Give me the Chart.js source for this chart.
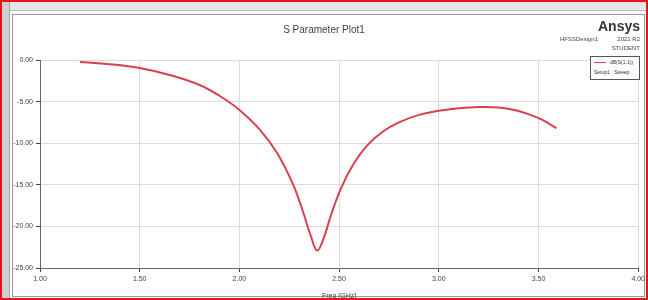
<!DOCTYPE html>
<html>
<head>
<meta charset="utf-8">
<script src="https://cdn.jsdelivr.net/npm/chart.js@4"></script>
<style>
  body { margin: 0; background: #fff; }
  #wrap { position: relative; width: 648px; height: 300px; overflow: hidden; font-family: "Liberation Sans", Arial, sans-serif; }
  #chart { position: absolute; left: 0; top: 0; }
  .ov { position: absolute; pointer-events: none; }
  #frame { left: 0; top: 0; width: 648px; height: 300px; box-sizing: border-box; border: 2px solid #e8141a; }
  #topband { left: 2px; top: 2px; width: 644px; height: 8px; background: #e6e6e6; border-bottom: 1px solid #bdbdbd; }
  #leftband { left: 2px; top: 2px; width: 7px; height: 296px; background: #cfcfcf; border-right: 1px solid #a8a8a8; }
  #title { left: 0; width: 648px; top: 24px; text-align: center; font-size: 10px; color: #444; }
  #ansys { right: 8px; top: 18px; font-size: 14px; font-weight: bold; color: #333; }
  #ver { right: 8px; top: 35px; font-size: 6px; color: #444; text-align: right; line-height: 9px; }
  #design { left: 560px; top: 36px; font-size: 6px; color: #444; }
  #legend { left: 590px; top: 56px; width: 48px; height: 22px; border: 1px solid #555; background: #fff; font-size: 5px; color: #333; }
  #legend div { height: 10px; line-height: 10px; padding-left: 3px; }
  #legend span.ln { display: inline-block; width: 12px; height: 1px; background: #d8404e; vertical-align: middle; margin-right: 4px; }
</style>
</head>
<body>
<div id="wrap">
  <canvas id="chart" width="648" height="300"></canvas>
  <div class="ov" id="topband"></div>
  <div class="ov" id="leftband"></div>
  <div class="ov" id="title">S Parameter Plot1</div>
  <div class="ov" id="ansys">Ansys</div>
  <div class="ov" id="ver">2021 R2<br>STUDENT</div>
  <div class="ov" id="design">HFSSDesign1</div>
  <div class="ov" id="legend">
    <div><span class="ln"></span>dB(S(1,1))</div>
    <div>Setup1 : Sweep</div>
  </div>
  <div class="ov" id="frame"></div>
</div>
<script>
// Frequency points (GHz) and dB(S(1,1)) values
const freqs = [1.2, 1.35, 1.5, 1.65, 1.8, 1.9, 2.0, 2.1, 2.19, 2.27, 2.32, 2.36, 2.39, 2.42, 2.46, 2.51, 2.57, 2.64, 2.72, 2.8, 2.9, 3.0, 3.1, 3.2, 3.3, 3.38, 3.45, 3.52, 3.59];
const s11 = [-0.24, -0.5, -0.96, -1.8, -3.0, -4.3, -6.0, -8.3, -11.2, -15.0, -18.3, -21.3, -22.9, -21.6, -18.6, -15.4, -12.6, -10.3, -8.6, -7.5, -6.6, -6.1, -5.8, -5.65, -5.7, -6.0, -6.5, -7.2, -8.2];

// Axis ticks
const xTicks = [1.0, 1.5, 2.0, 2.5, 3.0, 3.5, 4.0];
const yTicks = [0, -5, -10, -15, -20, -25];

const points = freqs.map((f, i) => ({ x: f, y: s11[i] }));

new Chart(document.getElementById('chart'), {
  type: 'line',
  data: {
    datasets: [{
      label: 'dB(S(1,1))',
      data: points,
      borderColor: '#d8404e',
      borderWidth: 2,
      pointRadius: 0,
      tension: 0.4,
      fill: false
    }]
  },
  options: {
    responsive: false,
    animation: false,
    layout: { padding: { top: 60, right: 5, left: 0, bottom: 0 } },
    plugins: { legend: { display: false }, tooltip: { enabled: false } },
    scales: {
      x: {
        type: 'linear',
        min: xTicks[0],
        max: xTicks[xTicks.length - 1],
        afterBuildTicks: axis => { axis.ticks = xTicks.map(v => ({ value: v })); },
        afterFit: axis => { axis.height = 32; },
        ticks: { font: { size: 7 }, color: '#444', padding: 3, callback: v => v.toFixed(2) },
        grid: { color: '#dcdcdc', tickColor: '#444', tickLength: 4 },
        border: { color: '#666' },
        title: { display: true, text: 'Freq [GHz]', font: { size: 7 }, color: '#444', padding: { top: 2, bottom: 0 } }
      },
      y: {
        min: yTicks[yTicks.length - 1],
        max: yTicks[0],
        afterBuildTicks: axis => { axis.ticks = yTicks.map(v => ({ value: v })); },
        afterFit: axis => { axis.width = 40; },
        ticks: { font: { size: 7 }, color: '#444', padding: 3, callback: v => v.toFixed(2) },
        grid: { color: '#dcdcdc', tickColor: '#444', tickLength: 4 },
        border: { color: '#666' },
        title: { display: true, text: 'dB(S(1,1))', font: { size: 7 }, color: '#444', padding: { top: 0, bottom: 2 } }
      }
    }
  },
  plugins: [{
    id: 'bg',
    beforeDraw: chart => {
      const c = chart.ctx;
      c.save();
      c.fillStyle = '#fff';
      c.fillRect(0, 0, chart.width, chart.height);
      c.strokeStyle = '#9a9a9a';
      c.lineWidth = 1;
      c.strokeRect(12.5, 14.5, 632, 282);
      c.restore();
    }
  }]
});
</script>
</body>
</html>
